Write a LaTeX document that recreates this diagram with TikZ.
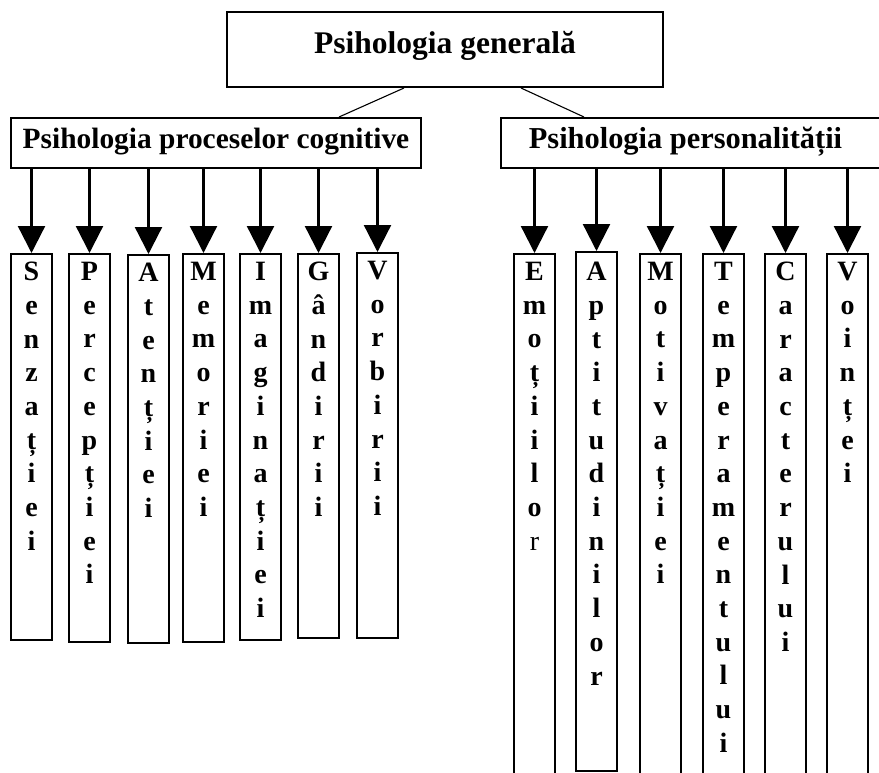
\documentclass[tikz,border=0pt]{standalone}
\usepackage{fontspec}
\setmainfont{Liberation Serif}
\usetikzlibrary{arrows.meta}

\begin{document}
\begin{tikzpicture}[x=1pt,y=-1pt,
  hbox/.style={draw,line width=2pt,inner sep=0pt},
  htext/.style={anchor=base,inner sep=0pt,font=\fontsize{30}{36}\selectfont\bfseries},
  colbox/.style={draw,line width=1.7pt,inner sep=0pt,minimum width=41pt,anchor=north},
  coltext/.style={anchor=north,align=center,inner sep=0pt,yshift=-9pt,
    font=\fontsize{28}{33.7}\selectfont\bfseries},
  down/.style={line width=2.3pt,-{Triangle[width=27pt,length=27pt]}},
  link/.style={line width=1.1pt}]
\clip (0,0) rectangle (879,772);
\fill[white] (0,0) rectangle (879,772);
% top level
\node[hbox,minimum width=436pt,minimum height=75pt] (gen) at (445,49.5) {};
\node[htext,font=\fontsize{31.5}{36}\selectfont\bfseries] (gent) at (445,53) {Psihologia generală};
% second level
\node[hbox,minimum width=410pt,minimum height=50pt] (cog) at (216,143) {};
\node[htext,font=\fontsize{29.4}{36}\selectfont\bfseries] (cogt) at (216,148) {Psihologia proceselor cognitive};
\node[hbox,minimum width=399pt,minimum height=50pt] (pers) at (700.5,143) {};
\node[htext,font=\fontsize{30.4}{36}\selectfont\bfseries] (perst) at (685.5,148) {Psihologia personalității};
\draw[link] ([xshift=178pt]gen.south west) -- ([xshift=329pt]cog.north west);
\draw[link] ([xshift=295pt]gen.south west) -- ([xshift=84pt]pers.north west);
% cognitive processes
\node[colbox,minimum height=386pt] (sen) at (31.5,253) {};
\node[colbox,minimum height=388pt] (per) at (89.5,253) {};
\node[colbox,minimum height=388pt] (ate) at (148.5,254) {};
\node[colbox,minimum height=388pt] (mem) at (203.5,253) {};
\node[colbox,minimum height=386pt] (ima) at (260.5,253) {};
\node[colbox,minimum height=384pt] (gan) at (318.5,253) {};
\node[colbox,minimum height=385pt] (vor) at (377.5,252) {};
\node[coltext] (sent) at (sen.north) {S\\e\\n\\z\\a\\ț\\i\\e\\i};
\node[coltext] (pert) at (per.north) {P\\e\\r\\c\\e\\p\\ț\\i\\e\\i};
\node[coltext] (atet) at (ate.north) {A\\t\\e\\n\\ț\\i\\e\\i};
\node[coltext] (memt) at (mem.north) {M\\e\\m\\o\\r\\i\\e\\i};
\node[coltext] (imat) at (ima.north) {I\\m\\a\\g\\i\\n\\a\\ț\\i\\e\\i};
\node[coltext] (gant) at (gan.north) {G\\â\\n\\d\\i\\r\\i\\i};
\node[coltext] (vort) at (vor.north) {V\\o\\r\\b\\i\\r\\i\\i};
\draw[down] (cog.south -| sen.north) -- (sen.north);
\draw[down] (cog.south -| per.north) -- (per.north);
\draw[down] (cog.south -| ate.north) -- (ate.north);
\draw[down] (cog.south -| mem.north) -- (mem.north);
\draw[down] (cog.south -| ima.north) -- (ima.north);
\draw[down] (cog.south -| gan.north) -- (gan.north);
\draw[down] (cog.south -| vor.north) -- (vor.north);
% personality
\node[colbox,minimum height=560pt] (emo) at (534.5,253) {};
\node[colbox,minimum height=519pt] (apt) at (596.5,251) {};
\node[colbox,minimum height=560pt] (mot) at (660.5,253) {};
\node[colbox,minimum height=560pt] (tem) at (723.5,253) {};
\node[colbox,minimum height=560pt] (car) at (785.5,253) {};
\node[colbox,minimum height=560pt] (voi) at (847.5,253) {};
\node[coltext] (emot) at (emo.north) {E\\m\\o\\ț\\i\\i\\l\\o\\{\mdseries r}};
\node[coltext,yshift=-2pt] (aptt) at (apt.north) {A\\p\\t\\i\\t\\u\\d\\i\\n\\i\\l\\o\\r};
\node[coltext] (mott) at (mot.north) {M\\o\\t\\i\\v\\a\\ț\\i\\e\\i};
\node[coltext] (temt) at (tem.north) {T\\e\\m\\p\\e\\r\\a\\m\\e\\n\\t\\u\\l\\u\\i};
\node[coltext] (cart) at (car.north) {C\\a\\r\\a\\c\\t\\e\\r\\u\\l\\u\\i};
\node[coltext] (voit) at (voi.north) {V\\o\\i\\n\\ț\\e\\i};
\draw[down] (pers.south -| emo.north) -- (emo.north);
\draw[down] (pers.south -| apt.north) -- (apt.north);
\draw[down] (pers.south -| mot.north) -- (mot.north);
\draw[down] (pers.south -| tem.north) -- (tem.north);
\draw[down] (pers.south -| car.north) -- (car.north);
\draw[down] (pers.south -| voi.north) -- (voi.north);
\end{tikzpicture}
\end{document}
